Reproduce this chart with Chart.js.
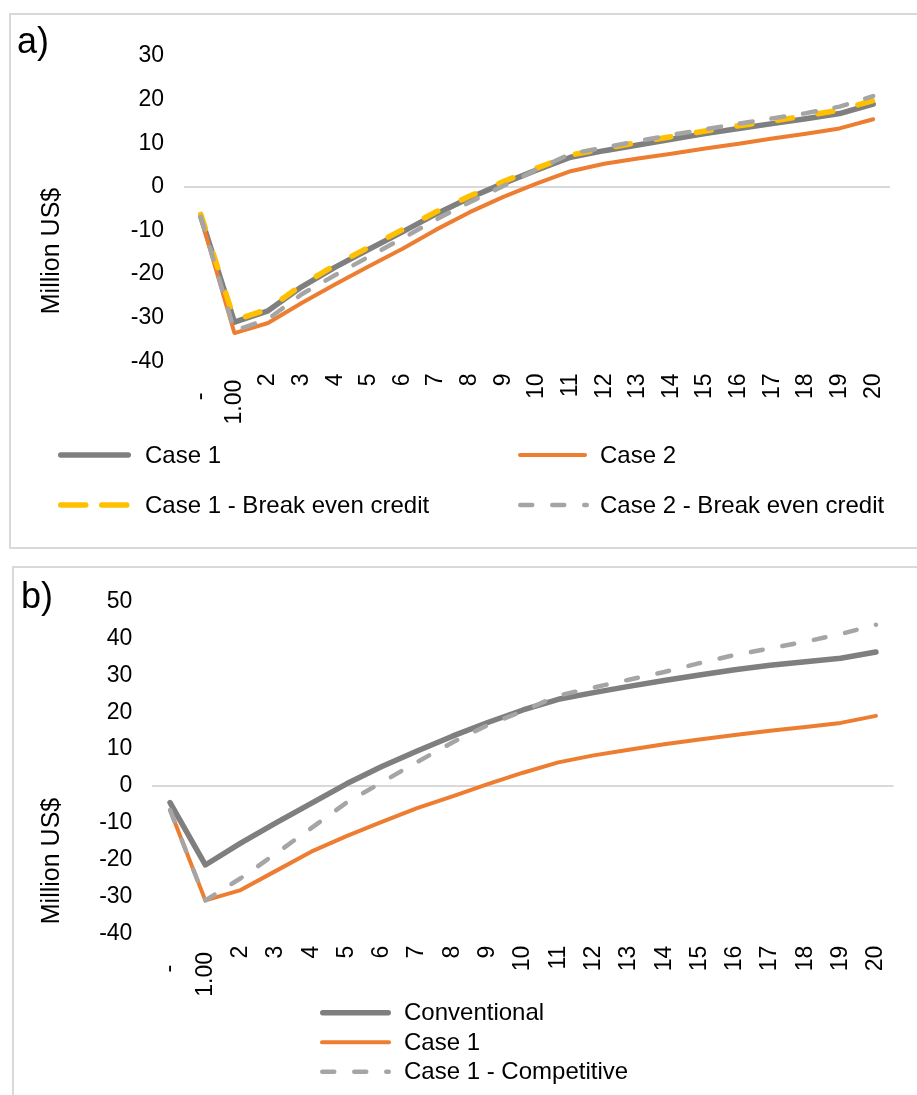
<!DOCTYPE html>
<html>
<head>
<meta charset="utf-8">
<script src="https://cdn.jsdelivr.net/npm/chart.js@4.4.1/dist/chart.umd.min.js"></script>
<style>
    html, body { margin: 0; padding: 0; background: #fff; width: 917px; height: 1095px; overflow: hidden; }
    .box { position: absolute; border: 2px solid #d9d9d9; box-sizing: border-box; }
    canvas { position: absolute; left: 0; }
</style>
</head>
<body>
<div class="box" style="left:9px;top:13px;width:930px;height:536px"></div>
<div class="box" style="left:12px;top:566px;width:930px;height:560px"></div>
<canvas id="chart-a" width="917" height="560" style="top:0"></canvas>
<canvas id="chart-b" width="917" height="535" style="top:560px"></canvas>
<script>
// Cumulative cash flow, Million US$, by project year

const years = ["-   ", "1.00 ", "2", "3", "4", "5", "6", "7", "8", "9", "10",
    "11", "12", "13", "14", "15", "16", "17", "18", "19", "20"];

// panel a)
const case1A = [-6.8, -31.0, -28.4, -22.9, -18.4, -14.3, -10.3, -6.2, -2.5, 0.8, 3.9,
    6.8, 8.3, 9.6, 10.9, 12.2, 13.4, 14.5, 15.6, 16.8, 19.0];
const case2A = [-7.0, -33.5, -31.2, -26.6, -22.3, -18.2, -14.2, -9.8, -5.8, -2.3, 0.8,
    3.6, 5.3, 6.5, 7.6, 8.8, 9.9, 11.1, 12.2, 13.4, 15.5];
const case1BreakEvenA = [-6.3, -30.6, -28.0, -22.5, -17.9, -13.8, -9.8, -5.7, -2.1, 1.2, 4.3,
    7.3, 8.8, 10.2, 11.5, 12.8, 14.0, 15.1, 16.3, 17.6, 19.8];
const case2BreakEvenA = [-6.8, -33.0, -30.3, -24.6, -20.2, -16.0, -11.8, -7.5, -3.5, 0.2, 4.0,
    7.6, 9.0, 10.5, 11.9, 13.2, 14.5, 15.7, 16.9, 18.4, 20.8];

// panel b)
const conventionalB = [-4.5, -21.4, -15.5, -10.0, -4.7, 0.6, 5.3, 9.5, 13.5, 17.2, 20.6,
    23.5, 25.3, 27.0, 28.6, 30.1, 31.5, 32.7, 33.7, 34.6, 36.3];
const case1B = [-6.5, -31.0, -28.2, -23.0, -17.8, -13.6, -9.7, -6.0, -2.8, 0.5, 3.6,
    6.4, 8.3, 9.8, 11.3, 12.6, 13.8, 15.0, 16.0, 17.1, 19.0];
const case1CompetitiveB = [-6.5, -31.0, -25.0, -18.3, -11.4, -4.5, 1.0, 6.5, 11.8, 16.5, 20.3,
    24.5, 26.7, 28.8, 30.9, 33.3, 35.5, 37.3, 39.1, 41.2, 43.7];

const FONT = "'Liberation Sans', Arial, sans-serif";
const INK = "#000";
const GRAY = "#7f7f7f", ORANGE = "#ed7d31", YELLOW = "#ffc000", LIGHT = "#a5a5a5";

Chart.defaults.font.family = FONT;
Chart.defaults.color = INK;

function lineSet(label, data, color, width, dash, order, legendDash) {
    return {
        label, data, order,
        borderColor: color, backgroundColor: color, borderWidth: width,
        borderDash: dash, borderCapStyle: "round", borderJoinStyle: "round",
        pointRadius: 0, pointHoverRadius: 0, tension: 0, fill: false,
        legendDash,
    };
}

// panel letter, axis title and the line-sample legend
const panelDecor = {
    id: "panelDecor",
    afterDraw(chart, args, opts) {
        const ctx = chart.ctx;
        ctx.save();
        ctx.fillStyle = INK;
        ctx.font = `36px ${FONT}`;
        ctx.textAlign = "left";
        ctx.textBaseline = "alphabetic";
        ctx.fillText(opts.panel, opts.panelX, opts.panelY);

        ctx.save();
        ctx.font = `25px ${FONT}`;
        ctx.translate(opts.titleX, opts.titleY);
        ctx.rotate(-Math.PI / 2);
        ctx.textAlign = "center";
        ctx.textBaseline = "middle";
        ctx.fillText("Million US$", 0, 0);
        ctx.restore();

        ctx.font = `24px ${FONT}`;
        ctx.textBaseline = "middle";
        chart.data.datasets.forEach((ds, i) => {
            const slot = opts.legend[i];
            const w = ds.borderWidth;
            ctx.save();
            ctx.strokeStyle = ds.borderColor;
            ctx.lineWidth = w;
            ctx.lineCap = "round";
            ctx.setLineDash(ds.legendDash || []);
            ctx.beginPath();
            ctx.moveTo(slot.x1 + w / 2, slot.y);
            ctx.lineTo(slot.x2 - w / 2, slot.y);
            ctx.stroke();
            ctx.restore();
            ctx.fillText(ds.label, slot.tx, slot.y + 1);
        });
        ctx.restore();
    }
};

function scalesFor(min, max, yWidth) {
    return {
        x: {
            offset: true,
            grid: { display: false, drawTicks: false },
            border: { display: false },
            ticks: { autoSkip: false, minRotation: 90, maxRotation: 90, padding: 12, color: INK, font: { size: 23 } },
            afterFit: (s) => { s.height = 80; },
        },
        y: {
            min, max,
            ticks: { stepSize: 10, padding: 20, color: INK, font: { size: 23 } },
            grid: {
                drawTicks: false, lineWidth: 2,
                color: (c) => c.tick && c.tick.value === 0 ? "#d9d9d9" : "rgba(0,0,0,0)",
            },
            border: { display: false },
            afterFit: (s) => { s.width = yWidth; },
        },
    };
}

const baseOpts = {
    responsive: false,
    animation: false,
    devicePixelRatio: 1,
    events: [],
};

new Chart(document.getElementById("chart-a"), {
    type: "line",
    data: {
        labels: years,
        datasets: [
            lineSet("Case 1", case1A, GRAY, 5.5, [], 4, []),
            lineSet("Case 2", case2A, ORANGE, 4, [], 3, []),
            lineSet("Case 1 - Break even credit", case1BreakEvenA, YELLOW, 5.5, [15, 26], 2, [25, 16]),
            lineSet("Case 2 - Break even credit", case2BreakEvenA, LIGHT, 4.5, [13, 19], 1, [12, 20]),
        ],
    },
    options: {
        ...baseOpts,
        layout: { padding: { left: 0, right: 27, top: 56, bottom: 118.6 } },
        scales: scalesFor(-40, 30, 184),
        plugins: {
            legend: { display: false },
            tooltip: { enabled: false },
            panelDecor: {
                panel: "a)", panelX: 17, panelY: 53,
                titleX: 52, titleY: 251,
                legend: [
                    { x1: 58, x2: 131, tx: 145, y: 455 },
                    { x1: 518, x2: 587, tx: 600, y: 455 },
                    { x1: 58, x2: 131, tx: 145, y: 505 },
                    { x1: 518, x2: 589, tx: 600, y: 505 },
                ],
            },
        },
    },
    plugins: [panelDecor],
});

new Chart(document.getElementById("chart-b"), {
    type: "line",
    data: {
        labels: years,
        datasets: [
            lineSet("Conventional", conventionalB, GRAY, 5.5, [], 3, []),
            lineSet("Case 1", case1B, ORANGE, 4, [], 2, []),
            lineSet("Case 1 - Competitive", case1CompetitiveB, LIGHT, 4.5, [12, 20], 1, [12, 20]),
        ],
    },
    options: {
        ...baseOpts,
        layout: { padding: { left: 0, right: 23.4, top: 41.5, bottom: 81.4 } },
        scales: scalesFor(-40, 50, 152.4),
        plugins: {
            legend: { display: false },
            tooltip: { enabled: false },
            panelDecor: {
                panel: "b)", panelX: 21, panelY: 48,
                titleX: 52, titleY: 301,
                legend: [
                    { x1: 320, x2: 391, tx: 404, y: 452.7 },
                    { x1: 320, x2: 391, tx: 404, y: 482.3 },
                    { x1: 320, x2: 391, tx: 404, y: 511.7 },
                ],
            },
        },
    },
    plugins: [panelDecor],
});
</script>
</body>
</html>
